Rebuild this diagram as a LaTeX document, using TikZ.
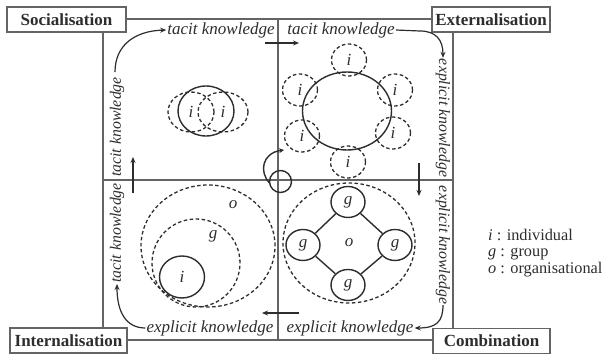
\documentclass[tikz,border=0pt]{standalone}
\usepackage{fontspec}
\setmainfont{Liberation Serif}
\usetikzlibrary{arrows.meta,shapes.geometric}
\definecolor{framec}{RGB}{100,100,100}
\definecolor{ink}{RGB}{45,45,45}
\begin{document}
\begin{tikzpicture}[x=1pt,y=-1pt,
  every node/.style={text=ink, font=\fontsize{17}{20}\selectfont},
  frameline/.style={draw=framec, line width=1.5pt},
  stagebox/.style={draw=framec, line width=1.5pt, fill=white, font=\fontsize{17}{20}\selectfont\bfseries, minimum height=25pt, inner sep=0pt},
  flow/.style={draw=ink, line width=1.2pt, -{Stealth[length=6pt,width=5pt]}},
  know/.style={font=\fontsize{17}{20}\selectfont\itshape, inner sep=1pt},
  vknow/.style={font=\fontsize{15.8}{18}\selectfont\itshape, inner sep=1pt},
  dcirc/.style={draw=ink, dash pattern=on 3.5pt off 2.5pt, line width=1.3pt, ellipse, inner sep=0pt, font=\fontsize{17}{20}\selectfont\itshape},
  scirc/.style={draw=ink, line width=1.4pt, ellipse, inner sep=0pt, font=\fontsize{17}{20}\selectfont\itshape},
  lbl/.style={font=\fontsize{17}{20}\selectfont\itshape, inner sep=0pt},
  legend/.style={anchor=west, inner sep=0pt, align=left, font=\fontsize{16.3}{16.5}\selectfont}
]
\useasboundingbox (0,0) rectangle (608,355);

% frame
\draw[frameline] (103,19) rectangle (453,340);
\draw[frameline] (278,19) -- (278,340);
\draw[frameline] (103,180) -- (453,180);

% stage boxes
\node[stagebox, minimum width=119pt] (soc) at (66.5,19.5) {Socialisation};
\node[stagebox, minimum width=118pt] (ext) at (491,19.5) {Externalisation};
\node[stagebox, minimum width=117pt] (int) at (68.5,340.5) {Internalisation};
\node[stagebox, minimum width=117pt] (com) at (491.5,341) {Combination};

% knowledge labels
\node[know] (k1) at (221,30) {tacit knowledge};
\node[know] (k2) at (341,30) {tacit knowledge};
\node[vknow, rotate=-90] (k3) at (443,118) {explicit knowledge};
\node[vknow, rotate=-90] (k4) at (443,245) {explicit knowledge};
\node[know] (k5) at (350,328) {explicit knowledge};
\node[know] (k6) at (210,328) {explicit knowledge};
\node[vknow, rotate=90] (k7) at (117,233) {tacit knowledge};
\node[vknow, rotate=90] (k8) at (117,127) {tacit knowledge};

% connector end points
\coordinate (c1s) at (115,72);
\coordinate (c3s) at (265,43);
\coordinate (c3e) at (299,43);
\coordinate (c4s) at (419,163);
\coordinate (c4e) at (419,196);
\coordinate (c6s) at (299,313);
\coordinate (c6e) at (262,313);
\coordinate (c8s) at (133,193);
\coordinate (c8e) at (133,157);
\coordinate (spc) at (280.5,181.5);
\coordinate (sps) at (269.5,183);
\coordinate (spe) at (284,150);

% curved flows
\draw[flow] (c1s) .. controls (115,45) and (135,31) .. (k1.west);
\draw[flow] (k2.east) -- (420,31) .. controls (436,31) and (443,40) .. (k3.west);
\draw[flow] (k4.east) .. controls (443,322) and (436,328) .. (k5.east);
\draw[flow] (k6.west) .. controls (126,328) and (117,312) .. (k7.west);
% straight flows
\draw[flow] (c3s) -- (c3e);
\draw[flow] (c4s) -- (c4e);
\draw[flow] (c6s) -- (c6e);
\draw[flow] (c8s) -- (c8e);

% centre spiral
\draw[ink, line width=1.4pt] (spc) circle [radius=11pt];
\draw[ink, line width=1.4pt, -{Stealth[length=5pt,width=5pt]}] (sps) .. controls (259,172) and (262,153) .. (spe);

% socialisation circles
\node[scirc, minimum width=56pt, minimum height=50pt] (s0) at (206,111) {};
\node[dcirc, minimum width=46pt, minimum height=40pt] (s1) at (191,112) {i};
\node[dcirc, minimum width=50pt, minimum height=40pt] (s2) at (223,112) {i};

% externalisation circles
\node[scirc, minimum width=89pt, minimum height=78pt] (e0) at (347,111) {};
\node[dcirc, minimum width=35pt, minimum height=32pt] (e1) at (349,60) {i};
\node[dcirc, minimum width=35pt, minimum height=32pt] (e2) at (300,90) {i};
\node[dcirc, minimum width=35pt, minimum height=32pt] (e3) at (395,90) {i};
\node[dcirc, minimum width=35pt, minimum height=32pt] (e4) at (302,136) {i};
\node[dcirc, minimum width=35pt, minimum height=32pt] (e5) at (393,133) {i};
\node[dcirc, minimum width=35pt, minimum height=32pt] (e6) at (348,162) {i};

% internalisation circles
\node[dcirc, minimum width=134pt, minimum height=122pt] (io) at (208,246) {};
\node[dcirc, minimum width=88pt, minimum height=88pt] (ig) at (196,263) {};
\node[scirc, minimum width=45pt, minimum height=42pt] (ii) at (182,277) {i};
\node[lbl] (lo) at (233,205) {o};
\node[lbl] (lg) at (213,236) {g};

% combination circles
\node[dcirc, minimum width=132pt, minimum height=120pt] (co) at (349,243) {o};
\node[scirc, minimum width=34pt, minimum height=31pt] (g1) at (348,202) {g};
\node[scirc, minimum width=34pt, minimum height=31pt] (g2) at (303,245) {g};
\node[scirc, minimum width=34pt, minimum height=31pt] (g3) at (395,245) {g};
\node[scirc, minimum width=34pt, minimum height=31pt] (g4) at (348,285) {g};
\draw[ink, line width=1.4pt] (g1) -- (g2);
\draw[ink, line width=1.4pt] (g2) -- (g4);
\draw[ink, line width=1.4pt] (g4) -- (g3);
\draw[ink, line width=1.4pt] (g3) -- (g1);

% legend
\node[legend] (leg) at (488,253) {\textit{i} : individual\\ \textit{g} : group\\ \textit{o} : organisational};
\end{tikzpicture}
\end{document}
